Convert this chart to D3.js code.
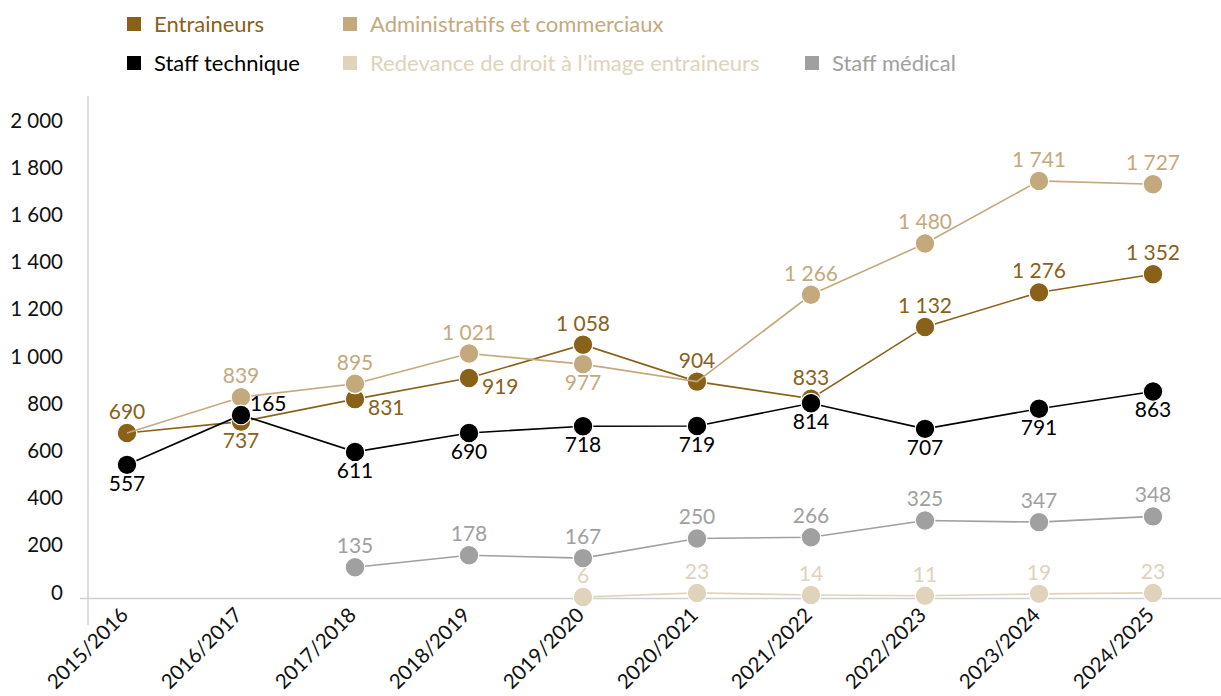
<!DOCTYPE html>
<html>
<head>
<meta charset="utf-8">
<script src="https://cdn.jsdelivr.net/npm/d3@7"></script>
<style>
  html, body { margin: 0; padding: 0; background: #ffffff; }
  svg { display: block; font-family: Lato, "Noto Sans", sans-serif; }
</style>
</head>
<body>
<svg id="chart" width="1221" height="696"></svg>
<script>
// ---------- DATA ----------
const categories = ["2015/2016", "2016/2017", "2017/2018", "2018/2019", "2019/2020",
                    "2020/2021", "2021/2022", "2022/2023", "2023/2024", "2024/2025"];
const entraineurs     = [690, 737, 831, 919, 1058, 904, 833, 1132, 1276, 1352];
const administratifs  = [690, 839, 895, 1021, 977, 904, 1266, 1480, 1741, 1727];
const staffTechnique  = [557, 765, 611, 690, 718, 719, 814, 707, 791, 863];
const redevance       = [null, null, null, null, 6, 23, 14, 11, 19, 23];
// plotted positions (labels below give the printed figures)
const staffMedical    = [null, null, 130, 180, 168, 250, 255, 325, 318, 342];
// displayed label texts (null = no label/marker shown)
const administratifsLabels = [null, "839", "895", "1 021", "977", null, "1 266", "1 480", "1 741", "1 727"];
const staffTechniqueLabels = ["557", "165", "611", "690", "718", "719", "814", "707", "791", "863"];
const staffMedicalLabels   = [null, null, "135", "178", "167", "250", "266", "325", "347", "348"];
const yTicks = [0, 200, 400, 600, 800, 1000, 1200, 1400, 1600, 1800, 2000];

// ---------- SETUP ----------
const fr = d3.formatLocale({decimal: ",", thousands: "\u00a0", grouping: [3], currency: ["", " €"]});
const fmt = v => fr.format(",")(v).replace(/\u00a0/g, " ");

const svg = d3.select("#chart");
const x = d3.scalePoint().domain(categories).range([127, 1153]);
const y = d3.scaleLinear().domain([0, 2000]).range([598.4, 118.8]);
const yLab = d3.scaleLinear().domain([0, 2000]).range([592, 120]);

// label placements: a = above, b = below, r = right (slightly low), ru = right (slightly high)
const series = [
  {name: "Redevance de droit à l’image entraineurs", color: "#E0D3BC", values: redevance,
   labels: redevance.map(v => v == null ? null : fmt(v)), place: redevance.map(() => "a")},
  {name: "Staff médical", color: "#A0A0A0", values: staffMedical,
   labels: staffMedicalLabels, place: staffMedical.map(() => "a")},
  {name: "Entraineurs", color: "#8A6119", values: entraineurs,
   labels: entraineurs.map(fmt), place: ["a", "b", "r", "r", "a", "a", "a", "a", "a", "a"]},
  {name: "Administratifs et commerciaux", color: "#C4A97D", values: administratifs,
   labels: administratifsLabels, place: ["a", "a", "a", "a", "b", "a", "a", "a", "a", "a"]},
  {name: "Staff technique", color: "#000000", values: staffTechnique,
   labels: staffTechniqueLabels, place: ["b", "ru", "b", "b", "b", "b", "b", "b", "b", "b"]}
];

// ---------- AXES ----------
svg.append("line").attr("x1", 88).attr("x2", 88).attr("y1", 96).attr("y2", 625)
  .attr("stroke", "#d0d0d0").attr("stroke-width", 1.5);
svg.append("line").attr("x1", 80).attr("x2", 1221).attr("y1", y(0)).attr("y2", y(0))
  .attr("stroke", "#cfcfcf").attr("stroke-width", 1.5);

const yAxis = svg.append("g").attr("transform", "translate(63,0)")
  .call(d3.axisLeft(y).tickValues(yTicks).tickSize(0).tickPadding(0).tickFormat(fmt));
yAxis.select(".domain").remove();
yAxis.selectAll("text")
  .attr("font-family", "Lato, 'Noto Sans', sans-serif")
  .attr("font-size", 20.5).attr("fill", "#111")
  .attr("dy", d => (yLab(d) - y(d)) + 7);

const xAxis = svg.append("g").attr("transform", `translate(0,${y(0)})`)
  .call(d3.axisBottom(x).tickSize(0).tickPadding(0));
xAxis.select(".domain").remove();
xAxis.selectAll("text")
  .attr("font-family", "Lato, 'Noto Sans', sans-serif")
  .attr("font-size", 20.5).attr("fill", "#111")
  .attr("text-anchor", "end")
  .attr("dy", 0)
  .attr("transform", "translate(2,18) rotate(-45)");

// ---------- LINES & MARKERS ----------
const line = d3.line().defined(d => d.v != null).x(d => x(d.c)).y(d => y(d.v));

series.forEach(s => {
  const pts = categories.map((c, i) => ({c, v: s.values[i], lab: s.labels[i], p: s.place[i]}));
  const g = svg.append("g");
  g.append("path").datum(pts).attr("d", line)
    .attr("fill", "none").attr("stroke", s.color).attr("stroke-width", 1.6);
  g.selectAll("circle").data(pts.filter(d => d.v != null && d.lab != null)).join("circle")
    .attr("cx", d => x(d.c)).attr("cy", d => y(d.v)).attr("r", 9.8)
    .attr("fill", s.color).attr("stroke", "#fff").attr("stroke-width", 1.2);
  s.pts = pts;
});

// labels on top
series.forEach(s => {
  svg.append("g").selectAll("text").data(s.pts.filter(d => d.v != null && d.lab != null)).join("text")
    .attr("x", d => d.p === "r" ? x(d.c) + 13 : d.p === "ru" ? x(d.c) + 9 : x(d.c))
    .attr("y", d => {
      const cy = y(d.v);
      if (d.p === "a") return cy - 14;
      if (d.p === "b") return cy + 26;
      if (d.p === "r") return cy + 16;
      return cy - 4;
    })
    .attr("text-anchor", d => (d.p === "r" || d.p === "ru") ? "start" : "middle")
    .attr("font-size", 21).attr("fill", s.color)
    .text(d => d.lab);
});

// ---------- LEGEND ----------
const legend = [
  {name: "Entraineurs", color: "#8A6119", x: 127, y: 24},
  {name: "Administratifs et commerciaux", color: "#C4A97D", x: 343, y: 24},
  {name: "Staff technique", color: "#000000", x: 127, y: 63},
  {name: "Redevance de droit à l’image entraineurs", color: "#E0D3BC", x: 343, y: 63},
  {name: "Staff médical", color: "#A0A0A0", x: 805, y: 63}
];
const lg = svg.append("g").selectAll("g").data(legend).join("g")
  .attr("transform", d => `translate(${d.x},${d.y})`);
lg.append("rect").attr("x", 0).attr("y", -7).attr("width", 14).attr("height", 14).attr("fill", d => d.color);
lg.append("text").attr("x", 27).attr("y", 7.5).attr("font-size", 22).attr("fill", d => d.color)
  .text(d => d.name);
</script>
</body>
</html>
